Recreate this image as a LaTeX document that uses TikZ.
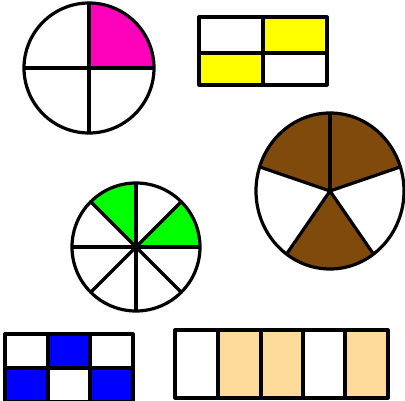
\documentclass[tikz,border=0pt]{standalone}
\usetikzlibrary{calc}
\definecolor{magentafill}{RGB}{255,0,187}
\definecolor{brownfill}{RGB}{128,74,12}
\definecolor{greenfill}{RGB}{0,255,0}
\definecolor{bluefill}{RGB}{0,0,255}
\definecolor{yellowfill}{RGB}{255,255,0}
\definecolor{orangefill}{RGB}{255,219,153}
\begin{document}
\begin{tikzpicture}[x=1pt,y=1pt,
  outl/.style={draw=black,line width=3.2pt,line join=round,line cap=round},
  seg/.style={draw=black,line width=3.2pt}]
\useasboundingbox (0,0) rectangle (405,401);
\fill[white] (0,0) rectangle (405,401);

% circle quarters
\coordinate (c1) at (89,333);
\fill[magentafill] (c1) -- +(0:65) arc[start angle=0,end angle=90,radius=65] -- cycle;
\draw[seg] (c1) ++(-65,0) -- ++(130,0);
\draw[seg] (c1) ++(0,-65) -- ++(0,130);
\draw[outl] (c1) circle[radius=65];

% rectangle halves
\fill[yellowfill] (263,348) rectangle (327,384);
\fill[yellowfill] (199,316) rectangle (263,348);
\draw[seg] (263,316) -- (263,384);
\draw[seg] (199,348) -- (327,348);
\draw[outl] (199,316) rectangle (327,384);

% pentagon circle (fifths)
\coordinate (c3) at (330,210);
\foreach \a/\b in {18/90,90/162,234/306}{
  \fill[brownfill] (c3) -- ($(c3)+({74*cos(\a)},{78*sin(\a)})$) arc[start angle=\a,end angle=\b,x radius=74,y radius=78] -- cycle;
}
\foreach \a in {18,90,162,234,306}{
  \draw[seg] (c3) -- ($(c3)+({74*cos(\a)},{78*sin(\a)})$);
}
\draw[outl] (c3) ellipse[x radius=74,y radius=78];

% eighths circle
\coordinate (c4) at (136,154);
\foreach \a/\b in {0/45,90/135}{
  \fill[greenfill] (c4) -- +(\a:64) arc[start angle=\a,end angle=\b,radius=64] -- cycle;
}
\foreach \a in {0,45,...,315}{
  \draw[seg] (c4) -- +(\a:64);
}
\draw[outl] (c4) circle[radius=64];

% blue grid
\fill[bluefill] (48,33) rectangle (90,67);
\fill[bluefill] (5,-1) rectangle (48,33);
\fill[bluefill] (90,-1) rectangle (133,33);
\draw[seg] (5,33) -- (133,33);
\draw[seg] (48,-1) -- (48,67);
\draw[seg] (90,-1) -- (90,67);
\draw[outl] (5,-1) rectangle (133,67);

% orange strip
\foreach \l/\r in {218/261,261/303,345/388}{
  \fill[orangefill] (\l,3) rectangle (\r,71);
}
\foreach \x in {218,261,303,345}{
  \draw[seg] (\x,3) -- (\x,71);
}
\draw[outl] (175,3) rectangle (388,71);
\end{tikzpicture}
\end{document}
